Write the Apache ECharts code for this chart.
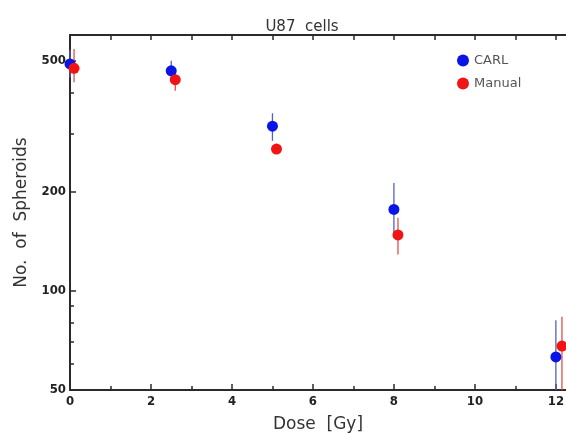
<!DOCTYPE html>
<html><head><meta charset="utf-8">
<script src="https://cdn.jsdelivr.net/npm/echarts@6/dist/echarts.min.js"></script>
<style>html,body{margin:0;padding:0;background:#fff}#c{width:566px;height:434px}</style>
</head><body><div id="c"></div>
<script>
// ---- data ----
const carlDose = [0, 2.5, 5, 8, 12];
const carlMean = [490, 467, 317, 177, 63];
const carlLow  = [445, 435, 286, 145, 50];
const carlHigh = [540, 501, 347, 213, 81.5];

const manualDose = [0.1, 2.6, 5.1, 8.1, 12.15];
const manualMean = [475, 439, 270, 148, 68];
const manualLow  = [431, 406, 262, 129, 50];
const manualHigh = [544, 470, 278, 167, 83.5];

const yMajor = [50, 100, 200, 500];
const yMinor = [60, 70, 80, 90, 300, 400];
const xMajor = [0, 2, 4, 6, 8, 10, 12];
const xMinor = [1, 3, 5, 7, 9, 11];
const xAll = [0,1,2,3,4,5,6,7,8,9,10,11,12];

const BLUE = '#0a14e6', RED = '#f01414';
const BLUE_BAR = '#5060c8', RED_BAR = '#e0504a';
const AX = '#2a2a2a';
const tickFont = {fontFamily: 'DejaVu Sans Condensed', fontWeight: 'bold', fontSize: 13, color: '#222'};

function pts(xs, ys){ return xs.map((x,i)=>[x, ys[i]]); }
function bars(xs, lo, hi){ return xs.map((x,i)=>[x, lo[i], hi[i]]); }
function errRender(color){
  return function(params, api){
    const a = api.coord([api.value(0), api.value(1)]);
    const b = api.coord([api.value(0), api.value(2)]);
    return {type:'line', shape:{x1:a[0],y1:a[1],x2:b[0],y2:b[1]}, style:{stroke:color, lineWidth:1.3}};
  };
}

const xBase = {type:'value', min:0, max:12.25, gridIndex:0};
const yBase = {type:'log', logBase:10, min:50, max:600, gridIndex:0};

const chart = echarts.init(document.getElementById('c'));
chart.setOption({
  animation:false,
  backgroundColor:'#fff',
  title:{text:'U87  cells', left:297, top:15, textAlign:'center',
    textStyle:{fontFamily:'DejaVu Sans', fontWeight:'normal', fontSize:15, color:'#333'}},
  grid:{left:70, top:35, right:0, bottom:44, containLabel:false, outerBoundsMode:'none'},
  legend:{data:['CARL','Manual'], orient:'vertical', left:452, top:49, itemGap:10,
    itemWidth:12, itemHeight:12, icon:'circle',
    textStyle:{fontFamily:'DejaVu Sans', fontSize:13, color:'#555'}},
  xAxis:[
    Object.assign({}, xBase, {position:'bottom', name:'Dose  [Gy]', nameLocation:'middle', nameGap:26,
      nameTextStyle:{fontFamily:'DejaVu Sans', fontSize:17, color:'#333'},
      axisLine:{lineStyle:{color:AX, width:2}},
      axisTick:{inside:true, length:6, customValues:xMajor, lineStyle:{color:AX, width:1.5}},
      axisLabel:Object.assign({customValues:xMajor, margin:5}, tickFont),
      splitLine:{show:false}}),
    Object.assign({}, xBase, {position:'bottom',
      axisLine:{show:false},
      axisTick:{inside:true, length:4, customValues:xMinor, lineStyle:{color:AX, width:1.5}},
      axisLabel:{show:false}, splitLine:{show:false}}),
    Object.assign({}, xBase, {position:'top',
      axisLine:{lineStyle:{color:AX, width:2}},
      axisTick:{inside:true, length:5, customValues:xAll, lineStyle:{color:AX, width:1.5}},
      axisLabel:{show:false}, splitLine:{show:false}})
  ],
  yAxis:[
    Object.assign({}, yBase, {position:'left', name:'No.  of  Spheroids', nameLocation:'middle', nameGap:40,
      nameTextStyle:{fontFamily:'DejaVu Sans', fontSize:17, color:'#333'},
      axisLine:{lineStyle:{color:AX, width:2}},
      axisTick:{inside:true, length:6, customValues:yMajor, lineStyle:{color:AX, width:1.5}},
      axisLabel:Object.assign({customValues:yMajor, margin:4}, tickFont),
      splitLine:{show:false}, minorTick:{show:false}}),
    Object.assign({}, yBase, {position:'left',
      axisLine:{show:false},
      axisTick:{inside:true, length:4, customValues:yMinor, lineStyle:{color:AX, width:1.5}},
      axisLabel:{show:false}, splitLine:{show:false}})
  ],
  series:[
    {type:'custom', name:'CARL err', xAxisIndex:0, yAxisIndex:0, renderItem:errRender(BLUE_BAR),
      data:bars(carlDose, carlLow, carlHigh), z:1},
    {type:'custom', name:'Manual err', xAxisIndex:0, yAxisIndex:0, renderItem:errRender(RED_BAR),
      data:bars(manualDose, manualLow, manualHigh), z:1},
    {type:'scatter', name:'CARL', xAxisIndex:0, yAxisIndex:0, symbol:'circle', symbolSize:11,
      itemStyle:{color:BLUE, opacity:1}, data:pts(carlDose, carlMean), z:3},
    {type:'scatter', name:'Manual', xAxisIndex:0, yAxisIndex:0, symbol:'circle', symbolSize:11,
      itemStyle:{color:RED, opacity:1}, data:pts(manualDose, manualMean), z:4}
  ]
});
</script></body></html>
